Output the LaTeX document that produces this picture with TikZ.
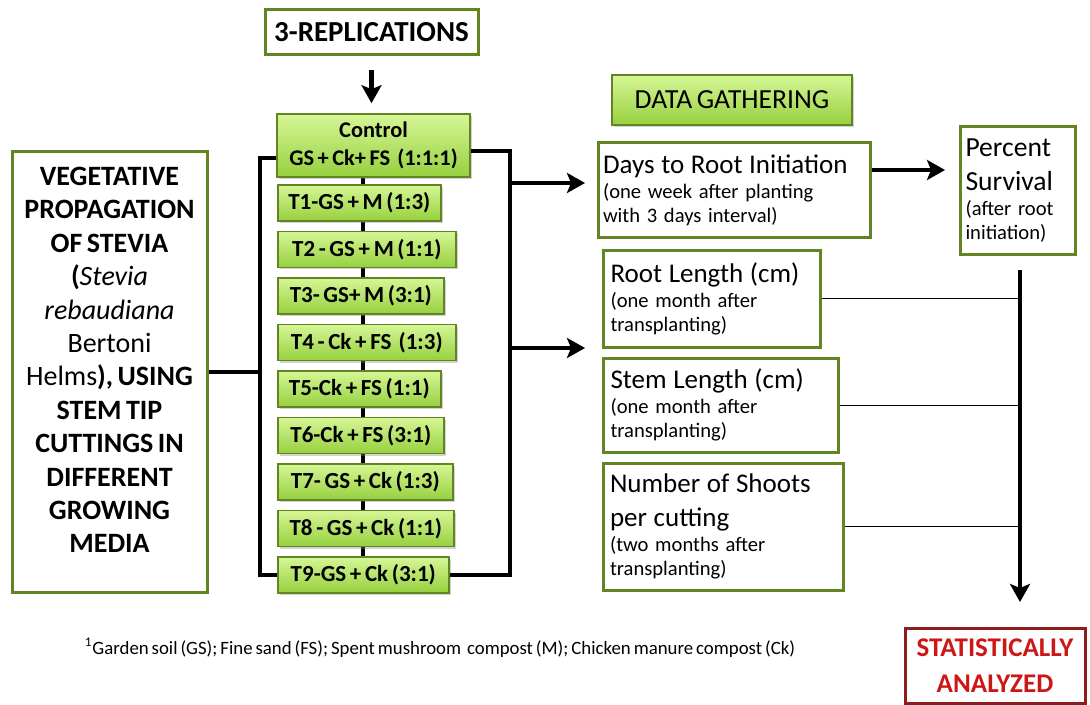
\documentclass[tikz,border=0pt]{standalone}
\usepackage{fontspec}
\setmainfont{Carlito}[WordSpace=0.7]
\usetikzlibrary{arrows.meta,backgrounds,shadows}

\definecolor{boxgreen}{RGB}{98,132,34}
\definecolor{lightgreen}{RGB}{214,246,150}
\definecolor{midgreen}{RGB}{150,208,62}
\definecolor{statred}{RGB}{140,30,30}
\definecolor{textred}{RGB}{205,22,22}

\tikzset{
  whitebox/.style={draw=boxgreen, line width=1.5pt, fill=white, inner sep=0pt},
  leafbox/.style={draw=boxgreen, line width=0.8pt, top color=lightgreen, bottom color=midgreen,
    drop shadow={shadow xshift=1pt, shadow yshift=-1pt, opacity=0.35}, inner sep=0pt},
  treat/.style={leafbox, anchor=west, minimum height=18pt,
    font=\bfseries\fontsize{11.5}{13}\selectfont},
  conn/.style={line width=2pt, black},
  thinline/.style={line width=0.5pt, black},
  arr/.style={line width=2.2pt, -{Stealth[length=9pt,width=10pt,inset=2pt]}}
}

\begin{document}
\begin{tikzpicture}[x=0.5pt,y=-0.5pt]
\useasboundingbox (0,0) rectangle (1090,705);

% left column
\node[whitebox, minimum width=97.5pt, minimum height=220pt,
  font=\fontsize{14}{16.7}\selectfont] (veg) at (109.5,372)
  {\raisebox{6pt}[\height][\depth]{\parbox{95pt}{\centering
   \textbf{VEGETATIVE}\\ \textbf{PROPAGATION}\\ \textbf{OF STEVIA}\\
   \textbf{(}\textit{Stevia}\\ \textit{rebaudiana}\\ Bertoni\\
   Helms\textbf{), USING}\\ \textbf{STEM TIP}\\ \textbf{CUTTINGS IN}\\
   \textbf{DIFFERENT}\\ \textbf{GROWING}\\ \textbf{MEDIA}}}};

% treatments
\node[whitebox, minimum width=106.5pt, minimum height=22.5pt,
  font=\bfseries\fontsize{14.5}{16}\selectfont] (rep) at (371.5,32.5) {3-REPLICATIONS};
\node[leafbox, minimum width=96.5pt, minimum height=31.5pt, align=center,
  font=\bfseries\fontsize{11.2}{14}\selectfont] (ctrl) at (373.5,145.5)
  {Control\\ GS + Ck+ FS~~(1:1:1)};
\node[treat, minimum width=81.5pt] (t1) at (277,203) {T1-GS + M (1:3)};
\node[treat, minimum width=89pt] (t2) at (277,249.5) {T2 - GS + M (1:1)};
\node[treat, minimum width=83pt] (t3) at (277,296) {T3- GS+ M (3:1)};
\node[treat, minimum width=89pt] (t4) at (277,342.5) {T4 - Ck + FS~~(1:3)};
\node[treat, minimum width=81.5pt] (t5) at (277,389) {T5-Ck + FS (1:1)};
\node[treat, minimum width=83pt] (t6) at (277,435.5) {T6-Ck + FS (3:1)};
\node[treat, minimum width=87.5pt] (t7) at (277,482) {T7- GS + Ck (1:3)};
\node[treat, minimum width=88pt] (t8) at (277,528.5) {T8 - GS + Ck (1:1)};
\node[treat, minimum width=85.5pt] (t9) at (277,575) {T9-GS + Ck (3:1)};

% data gathering
\node[leafbox, minimum width=120pt, minimum height=25pt,
  font=\fontsize{13.8}{15}\selectfont] (data) at (732,100) {DATA GATHERING};
\node[whitebox, minimum width=136pt, minimum height=47.5pt, text width=131pt, align=left] (days) at (734,190.5)
  {\fontsize{13.5}{15}\selectfont Days to Root Initiation\\
   \fontsize{10.3}{12.5}\selectfont (one week after planting\\ with 3 days interval)};
\node[whitebox, minimum width=57.5pt, minimum height=64pt, text width=52pt, align=left] (surv) at (1017.5,191)
  {\fontsize{13.8}{17}\selectfont Percent\\ Survival\\
   \fontsize{10.3}{12.5}\selectfont (after root\\ initiation)};
\node[whitebox, minimum width=108.5pt, minimum height=48pt, text width=101pt, align=left] (root) at (711.5,299)
  {\fontsize{13.5}{15.5}\selectfont Root Length (cm)\\
   \fontsize{10.3}{12.5}\selectfont (one month after\\ transplanting)};
\node[whitebox, minimum width=117.5pt, minimum height=47pt, text width=110pt, align=left] (stem) at (720.5,405)
  {\fontsize{13.5}{15.5}\selectfont Stem Length (cm)\\
   \fontsize{10.3}{12.5}\selectfont (one month after\\ transplanting)};
\node[whitebox, minimum width=120pt, minimum height=63.5pt, text width=113pt, align=left] (shoot) at (723,526.5)
  {\fontsize{13.5}{17}\selectfont Number of Shoots\\ per cutting\\
   \fontsize{10.3}{12.5}\selectfont (two months after\\ transplanting)};
\node[draw=statred, line width=1.5pt, minimum width=90pt, minimum height=37.5pt, align=center,
  text=textred, font=\bfseries\fontsize{13.5}{18}\selectfont] (stat) at (995,665.5)
  {STATISTICALLY\\ ANALYZED};

\node[font=\fontsize{9.4}{11}\selectfont] (note) at (440,648)
  {\textsuperscript{1}Garden soil (GS); Fine sand (FS); Spent mushroom~ compost (M); Chicken manure compost (Ck)};

% connectors
\coordinate (vj) at (260,372);
\coordinate (lt) at (260,158);
\coordinate (lb) at (260,575);
\coordinate (rt) at (510,151);
\coordinate (rb) at (510,575);
\coordinate (a1) at (585,183);
\coordinate (a2) at (585,348);
\coordinate (a3) at (945,170);
\coordinate (vtop) at (1020,270);
\coordinate (vbot) at (1020,602);

\begin{scope}[on background layer]
\draw[conn] (t9.center |- ctrl.south) -- (t9.center);
\end{scope}
\draw[arr] ([yshift=-7pt]rep.south) -- ([yshift=5pt]rep.south |- ctrl.north);
\draw[conn] (veg.east |- vj) -- (vj);
\draw[conn] (ctrl.west |- lt) -- (lt) -- (lb) -- (t9.west |- lb);
\draw[conn] (ctrl.east |- rt) -- (rt) -- (rb) -- (t9.east |- rb);
\draw[arr] (rt |- a1) -- (a1);
\draw[arr] (rt |- a2) -- (a2);
\draw[arr] (days.east |- a3) -- (a3);
\draw[arr] (vtop) -- (vbot);
\draw[thinline] (root.east) -- (vtop |- root.east);
\draw[thinline] (stem.east) -- (vtop |- stem.east);
\draw[thinline] (shoot.east) -- (vtop |- shoot.east);
\end{tikzpicture}
\end{document}
